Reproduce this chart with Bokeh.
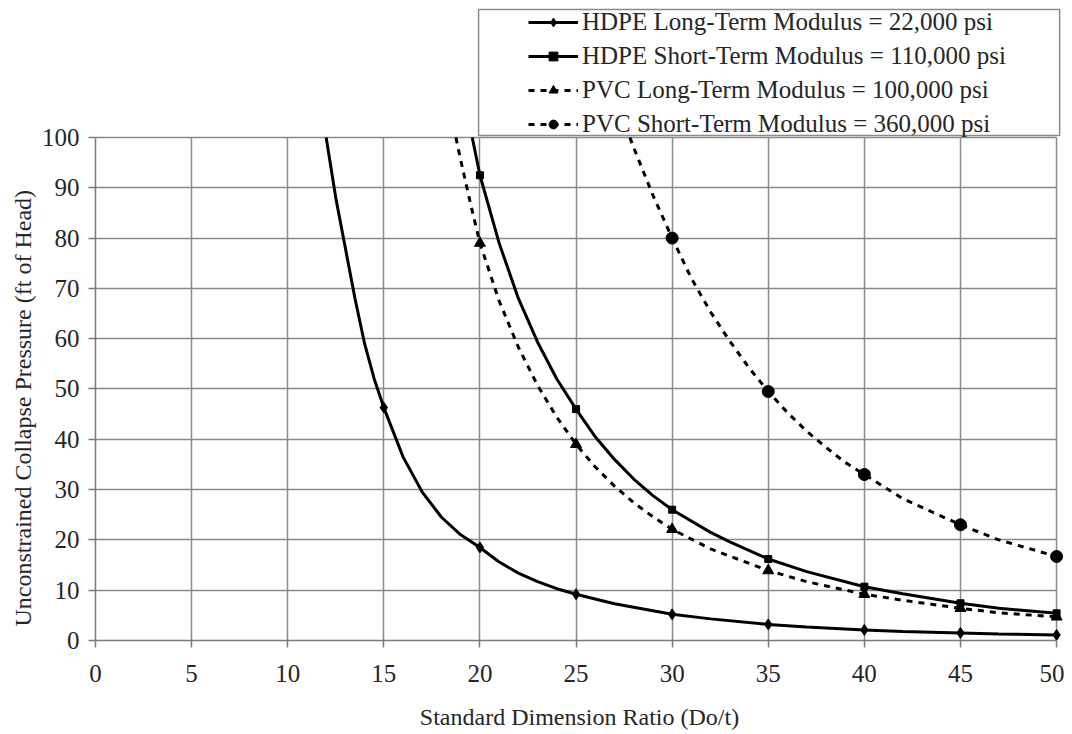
from bokeh.plotting import figure
from bokeh.models import Range1d, Legend, LegendItem, FixedTicker, BoxAnnotation, Grid, Title
from bokeh.embed import file_html
from bokeh.resources import INLINE

# ---- data ----
# HDPE long-term modulus = 22,000 psi
hdpe_lt_x = [12.0, 12.5, 13, 13.5, 14, 14.5, 15, 16, 17, 18, 19, 20, 21, 22, 23, 24, 25,
             27, 30, 32, 35, 37, 40, 42, 45, 47, 50]
hdpe_lt_y = [100, 88, 78, 68, 59, 52, 46.3, 36.5, 29.5, 24.5, 21, 18.5, 15.6, 13.4, 11.7, 10.3, 9.2,
             7.3, 5.2, 4.3, 3.2, 2.7, 2.1, 1.8, 1.5, 1.3, 1.1]
hdpe_lt_mx = [15, 20, 25, 30, 35, 40, 45, 50]
hdpe_lt_my = [46.3, 18.5, 9.2, 5.2, 3.2, 2.1, 1.5, 1.1]

# HDPE short-term modulus = 110,000 psi
hdpe_st_x = [19.6, 20, 21, 22, 23, 24, 25, 26, 27, 28, 29, 30, 32, 33, 35, 37, 40, 42, 45, 47, 50]
hdpe_st_y = [100, 92.5, 79, 68, 59.3, 52, 46, 40.5, 36, 32.1, 28.8, 26, 21.5, 19.6, 16.2, 13.7,
             10.7, 9.3, 7.4, 6.4, 5.4]
hdpe_st_mx = [20, 25, 30, 35, 40, 45, 50]
hdpe_st_my = [92.5, 46, 26, 16.2, 10.7, 7.4, 5.4]

# PVC long-term modulus = 100,000 psi
pvc_lt_x = [18.75, 19, 19.5, 20, 21, 22, 23, 24, 25, 26, 27, 28, 29, 30, 32, 35, 37, 40, 42, 45, 47, 50]
pvc_lt_y = [100, 95.5, 87, 79, 67.5, 58.3, 50.7, 44.4, 39, 34.5, 30.7, 27.4, 24.6, 22.1, 18.2,
            13.9, 11.7, 9.2, 8.0, 6.4, 5.5, 4.7]
pvc_lt_mx = [20, 25, 30, 35, 40, 45, 50]
pvc_lt_my = [79, 39, 22.1, 13.9, 9.2, 6.4, 4.7]

# PVC short-term modulus = 360,000 psi
pvc_st_x = [27.8, 28, 29, 30, 31, 32, 33, 34, 35, 36, 37, 38, 39, 40, 42, 45, 47, 50]
pvc_st_y = [100, 98, 88.5, 80, 72, 65.3, 59.5, 54.2, 49.5, 45.3, 41.6, 38.4, 35.4, 33, 28.2,
            23, 20, 16.7]
pvc_st_mx = [30, 35, 40, 45, 50]
pvc_st_my = [80, 49.5, 33, 23, 16.7]

x_ticks = [0, 5, 10, 15, 20, 25, 30, 35, 40, 45, 50]
y_ticks = [0, 10, 20, 30, 40, 50, 60, 70, 80, 90, 100]

labels = ["HDPE Long-Term Modulus = 22,000 psi",
          "HDPE Short-Term Modulus = 110,000 psi",
          "PVC Long-Term Modulus = 100,000 psi",
          "PVC Short-Term Modulus = 360,000 psi"]
x_title = "Standard Dimension Ratio (Do/t)"
y_title = "Unconstrained Collapse Pressure (ft of Head)"

FONT = "Liberation Serif"
TXT = "#262626"
GRID = "#8a8a8a"

# frame extends above y=100 so the legend box can sit there
Y_TOP = 126.44
X_END = 50.36

p = figure(width=1064, height=734, output_backend="svg", toolbar_location=None,
           x_range=Range1d(0, X_END), y_range=Range1d(0, Y_TOP),
           min_border_left=95, min_border_right=1, min_border_top=4, min_border_bottom=94)
p.outline_line_color = None
p.background_fill_color = "white"
p.border_fill_color = "white"

for ax in (p.xaxis[0], p.yaxis[0]):
    ax.axis_line_color = "#7a7a7a"
    ax.axis_line_width = 1.5
    ax.major_tick_line_color = "#7a7a7a"
    ax.major_tick_line_width = 1.5
    ax.major_tick_out = 7
    ax.major_tick_in = 0
    ax.minor_tick_line_color = None
    ax.major_label_text_font = FONT
    ax.major_label_text_font_size = "25px"
    ax.major_label_text_color = TXT
    ax.axis_label_text_font = FONT
    ax.axis_label_text_font_size = "24px"
    ax.axis_label_text_font_style = "normal"
    ax.axis_label_text_color = TXT

p.xaxis.ticker = FixedTicker(ticks=x_ticks)
p.yaxis.ticker = FixedTicker(ticks=y_ticks)
p.xaxis.bounds = (0, 50)
p.yaxis.bounds = (0, 100)
p.xaxis.axis_label = x_title
p.xaxis.major_label_standoff = 17
p.xaxis.axis_label_standoff = 19
p.yaxis.major_label_standoff = 9

# y title placed along the 0-100 part of the axis
ytitle = Title(text=y_title, align="left", offset=14, standoff=6,
               text_font=FONT, text_font_size="24px", text_font_style="normal",
               text_color=TXT)
p.add_layout(ytitle, "left")

if "cross_bounds" in Grid.properties():
    p.xgrid.grid_line_color = GRID
    p.ygrid.grid_line_color = GRID
    p.xgrid.grid_line_width = 1.5
    p.ygrid.grid_line_width = 1.5
    p.xgrid.cross_bounds = (0, 100)
    p.ygrid.cross_bounds = (0, 50)
else:
    p.xgrid.grid_line_color = None
    p.ygrid.grid_line_color = None
    p.segment(x0=x_ticks, y0=[0] * len(x_ticks), x1=x_ticks, y1=[100] * len(x_ticks),
              line_color=GRID, line_width=1.5)
    p.segment(x0=[0] * len(y_ticks), y0=y_ticks, x1=[50] * len(y_ticks), y1=y_ticks,
              line_color=GRID, line_width=1.5)

r1l = p.line(hdpe_lt_x, hdpe_lt_y, line_color="black", line_width=3)
r1m = p.scatter(hdpe_lt_mx, hdpe_lt_my, marker="diamond", size=11, color="black")
r2l = p.line(hdpe_st_x, hdpe_st_y, line_color="black", line_width=3)
r2m = p.scatter(hdpe_st_mx, hdpe_st_my, marker="square", size=7, color="black")
r3l = p.line(pvc_lt_x, pvc_lt_y, line_color="black", line_width=3, line_dash="6 6")
r3m = p.scatter(pvc_lt_mx, pvc_lt_my, marker="triangle", size=11, color="black")
r4l = p.line(pvc_st_x, pvc_st_y, line_color="black", line_width=3, line_dash="6 6")
r4m = p.scatter(pvc_st_mx, pvc_st_my, marker="circle", size=12, color="black")

# legend frame (wider than its contents, as in the original)
box = BoxAnnotation(left=19.93, right=50.16, bottom=100.4, top=125.45,
                    fill_color="white", fill_alpha=1.0,
                    line_color="#8a8a8a", line_alpha=1.0, line_width=1.5)
p.add_layout(box)

legend = Legend(items=[
    LegendItem(label=labels[0], renderers=[r1l, r1m]),
    LegendItem(label=labels[1], renderers=[r2l, r2m]),
    LegendItem(label=labels[2], renderers=[r3l, r3m]),
    LegendItem(label=labels[3], renderers=[r4l, r4m]),
], location=(433, 502))
legend.label_text_font = FONT
legend.label_text_font_size = "25px"
legend.label_text_color = TXT
legend.glyph_width = 50
legend.glyph_height = 22
legend.label_height = 22
legend.spacing = 6
legend.padding = 0
legend.margin = 0
legend.label_standoff = 4
legend.border_line_color = None
legend.background_fill_alpha = 0.0
p.add_layout(legend, "center")

open("out.html", "w").write(file_html(p, INLINE))
